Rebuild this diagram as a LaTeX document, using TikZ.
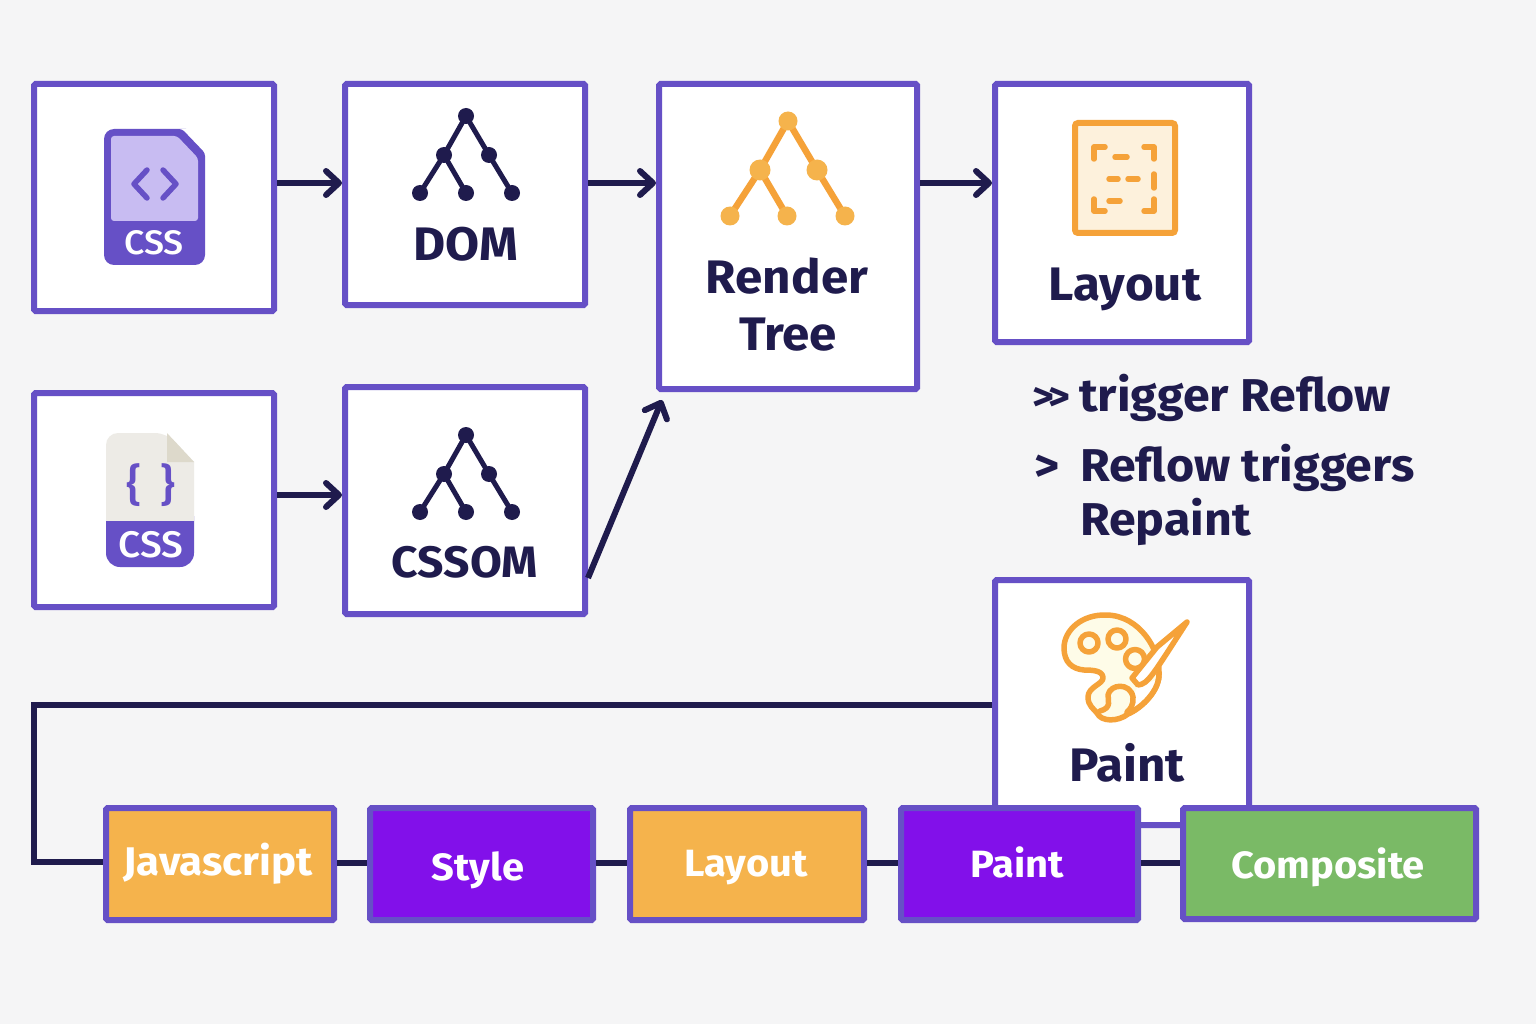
\documentclass[tikz,border=0pt]{standalone}
\usepackage{fontspec}
\setmainfont{Fira Sans}[FakeStretch=1.05]
\newfontface\medf{Fira Sans Medium}[FakeStretch=1.05]
\usetikzlibrary{arrows.meta}
\definecolor{bgc}{HTML}{F5F5F6}
\definecolor{vio}{HTML}{6650C6}
\definecolor{ink}{HTML}{1F1B4D}
\definecolor{orng}{HTML}{F5A239}
\definecolor{orfill}{HTML}{F5B34C}
\definecolor{purp}{HTML}{8210EA}
\definecolor{grn}{HTML}{7ABA66}
\definecolor{lilac}{HTML}{C8BCF2}
\definecolor{paper}{HTML}{EDEBE6}
\definecolor{foldc}{HTML}{DDD9CB}
\definecolor{cream}{HTML}{FDF1DC}
\definecolor{pale}{HTML}{FEFCE8}
\tikzset{
 x=1pt,y=-1pt,
 box/.style={draw=vio,line width=6pt,fill=white,rounded corners=1.5pt,inner sep=0pt},
 chip/.style={draw=vio,line width=6pt,rounded corners=1.5pt,inner sep=0pt,minimum height=112pt},
 conn/.style={draw=ink,line width=6pt},
 arr/.style={conn,-{Straight Barb[length=13pt,width=24pt,line cap=round,round]}},
 big/.style={text=ink,font=\fontsize{47}{47}\selectfont\bfseries,anchor=base,inner sep=0pt},
 side/.style={text=ink,font=\fontsize{46}{46}\selectfont\bfseries,anchor=base west,inner sep=0pt},
 chiptext/.style={text=white,font=\fontsize{38}{38}\selectfont\bfseries,anchor=base,inner sep=0pt},
 icontext/.style={text=white,anchor=base,inner sep=0pt},
 orl/.style={draw=orng,line width=5.5pt,line cap=round,line join=round},
 inkl/.style={draw=ink,line width=5pt},
 orlt/.style={draw=orng,line width=6.5pt},
}
\begin{document}
\begin{tikzpicture}
\useasboundingbox (0,0) rectangle (1536,1024);
\fill[bgc] (0,0) rectangle (1536,1024);
% boxes
\node[box,minimum width=240pt,minimum height=227pt] (css1) at (154,197.5) {};
\node[box,minimum width=240pt,minimum height=221pt] (dom) at (465,194.5) {};
\node[box,minimum width=258pt,minimum height=305pt] (render) at (788,236.5) {};
\node[box,minimum width=254pt,minimum height=258pt] (layout) at (1122,213) {};
\node[box,minimum width=240pt,minimum height=214pt] (css2) at (154,500) {};
\node[box,minimum width=240pt,minimum height=227pt] (cssom) at (465,500.5) {};
\node[box,minimum width=254pt,minimum height=245pt] (paint) at (1122,702.5) {};
\coordinate (rtin) at (662,400);
\coordinate (corner1) at (34,705);
\coordinate (corner2) at (34,862);
% connectors
\draw[arr] (css1.east |- 0,183) -- (dom.west |- 0,183);
\draw[arr] (dom.east |- 0,183) -- (render.west |- 0,183);
\draw[arr] (render.east |- 0,183) -- (layout.west |- 0,183);
\draw[arr] (css2.east |- 0,495) -- (cssom.west |- 0,495);
\draw[arr] (cssom.east |- 0,578) -- (rtin);
% chips
\node[chip,fill=orfill,minimum width=228pt] (js) at (220,864) {};
\node[chip,fill=purp,minimum width=223pt] (sty) at (481.5,864) {};
\node[chip,fill=orfill,minimum width=234pt] (lay) at (747,864) {};
\node[chip,fill=purp,minimum width=237pt] (pnt) at (1019.5,864) {};
\node[chip,fill=grn,minimum width=293pt,minimum height=111pt] (comp) at (1329.5,863.5) {};
\draw[conn,line join=miter] (paint.west |- corner1) -- (corner1) -- (corner2) -- (js.west |- corner2);
\draw[conn] (js.east |- 0,863) -- (sty.west |- 0,863);
\draw[conn] (sty.east |- 0,863) -- (lay.west |- 0,863);
\draw[conn] (lay.east |- 0,863) -- (pnt.west |- 0,863);
\draw[conn] (pnt.east |- 0,863) -- (comp.west |- 0,863);
% chip labels
\node[chiptext,font=\fontsize{40}{40}\selectfont\bfseries] (tjs) at (218,875) {Javascript};
\node[chiptext] (tsty) at (478,880) {Style};
\node[chiptext] (tlay) at (746,876) {Layout};
\node[chiptext] (tpnt) at (1017,877) {Paint};
\node[chiptext] (tcomp) at (1328,878) {Composite};
% box labels
\node[big] (tdom) at (466,261) {DOM};
\node[big] (tr1) at (787,294) {Render};
\node[big] (tr2) at (788,350) {Tree};
\node[big] (tl) at (1125,301) {Layout};
\node[big] (tp) at (1127,781) {Paint};
\node[big,font=\fontsize{44}{44}\selectfont\bfseries] (tcssom) at (465,577) {CSSOM};
% side text
\node[side,font=\fontsize{40}{40}\selectfont\bfseries] (s0) at (1032,410) {>\kern-6pt>};
\node[side] (s1) at (1079,411) {trigger Reflow};
\node[side] (s2) at (1034,481) {>};
\node[side] (s3) at (1080,481) {Reflow triggers};
\node[side] (s4) at (1080,535) {Repaint};
% CSS icon 1
\fill[vio,rounded corners=10pt] (104,197) -- (104,129) -- (176,129) [rounded corners=3pt] -- (182,129) -- (205,153) [rounded corners=10pt] -- (205,265) -- (104,265) -- cycle;
\fill[lilac,rounded corners=3pt] (111,136) -- (177,136) -- (198,158) -- (198,221) -- (111,221) -- cycle;
\draw[vio,line width=5.5pt,line cap=round,line join=round] (147,170) -- (134,184) -- (147,198);
\draw[vio,line width=5.5pt,line cap=round,line join=round] (163,170) -- (176,184) -- (163,198);
\node[icontext,font=\fontsize{34}{34}\selectfont\medf] (ic1) at (154,255) {CSS};
% CSS icon 2
\fill[paper,rounded corners=12pt] (106,521) -- (106,433) -- (167,433) [sharp corners] -- (194,462) -- (194,521) -- cycle;
\fill[foldc] (167,433) -- (194,462) -- (167,462) -- cycle;
\fill[vio,rounded corners=14pt] (106,521) [sharp corners] -- (106,530) [rounded corners=14pt] -- (106,567) -- (194,567) -- (194,530) [sharp corners] -- (194,521) -- cycle;
\node[icontext,text=vio,font=\fontsize{44}{44}\selectfont\medf] (ib) at (151,500) {\{\kern19pt\}};
\node[icontext,font=\fontsize{37}{37}\selectfont\medf] (ic2) at (151,557) {CSS};
% DOM tree
\foreach \a/\b/\c/\d in {466/116/444/155,466/116/489/155,444/155/420/193,444/155/466/193,489/155/512/193} \draw[inkl] (\a,\b) -- (\c,\d);
\foreach \a/\b in {466/116,444/155,489/155,420/193,466/193,512/193} \fill[ink] (\a,\b) circle[radius=8];
% CSSOM tree
\foreach \a/\b/\c/\d in {466/435/444/474,466/435/489/474,444/474/420/512,444/474/466/512,489/474/512/512} \draw[inkl] (\a,\b) -- (\c,\d);
\foreach \a/\b in {466/435,444/474,489/474,420/512,466/512,512/512} \fill[ink] (\a,\b) circle[radius=8];
% Render tree
\foreach \a/\b/\c/\d in {788/121/760/170,788/121/817/170,760/170/730/216,760/170/787/216,817/170/845/216} \draw[orlt] (\a,\b) -- (\c,\d);
\foreach \a/\b/\r in {788/121/9.5,760/170/10.5,817/170/10.5,730/216/9.5,787/216/9.5,845/216/9.5} \fill[orfill] (\a,\b) circle[radius=\r];
% Layout icon
\draw[orng,line width=6pt,fill=cream,rounded corners=3pt] (1075,123) rectangle (1175,233);
\draw[orl] (1094,159) -- (1094,147) -- (1105,147);
\draw[orl] (1144,147) -- (1154,147) -- (1154,159);
\draw[orl] (1115,157) -- (1127,157);
\draw[orl] (1109,179) -- (1118,179);
\draw[orl] (1128,179) -- (1138,179);
\draw[orl] (1154,174) -- (1154,188);
\draw[orl] (1094,199) -- (1094,211) -- (1105,211);
\draw[orl] (1109,201) -- (1120,201);
\draw[orl] (1154,199) -- (1154,211) -- (1144,211);
% Palette icon
\draw[orl,fill=pale] (1107,615) .. controls (1082,614) and (1064,630) .. (1064,648)
 .. controls (1064,662) and (1072,669) .. (1084,670)
 .. controls (1094,670) and (1103,671) .. (1103,678)
 .. controls (1103,684) and (1088,687) .. (1088,697)
 .. controls (1088,706) and (1094,709) .. (1097,713)
 .. controls (1101,722) and (1118,722) .. (1128,714)
 .. controls (1142,708) and (1160,690) .. (1159,673)
 .. controls (1160,650) and (1140,616) .. (1107,615) -- cycle;
\fill[white] (1127,713) .. controls (1142,708) and (1152,695) .. (1157,680) -- (1138,686) -- (1133,697) .. controls (1134,704) and (1130,710) .. (1127,713) -- cycle;
\draw[orl] (1100,711) .. controls (1112,708) and (1108,700) .. (1108,695)
 .. controls (1110,684) and (1130,682) .. (1133,697)
 .. controls (1134,704) and (1130,710) .. (1127,712);
\draw[orl] (1127,714) .. controls (1142,708) and (1160,690) .. (1159,673);
\draw[orl,fill=pale] (1089,643) circle[radius=9];
\draw[orl,fill=pale] (1117,639) circle[radius=9];
\draw[orl,fill=pale] (1135,659) circle[radius=9.5];
\draw[orl,fill=white] (1187,622) -- (1157,647) -- (1132,678) -- (1138,685) .. controls (1148,684) and (1152,676) .. (1187,622) -- cycle;
\end{tikzpicture}
\end{document}
